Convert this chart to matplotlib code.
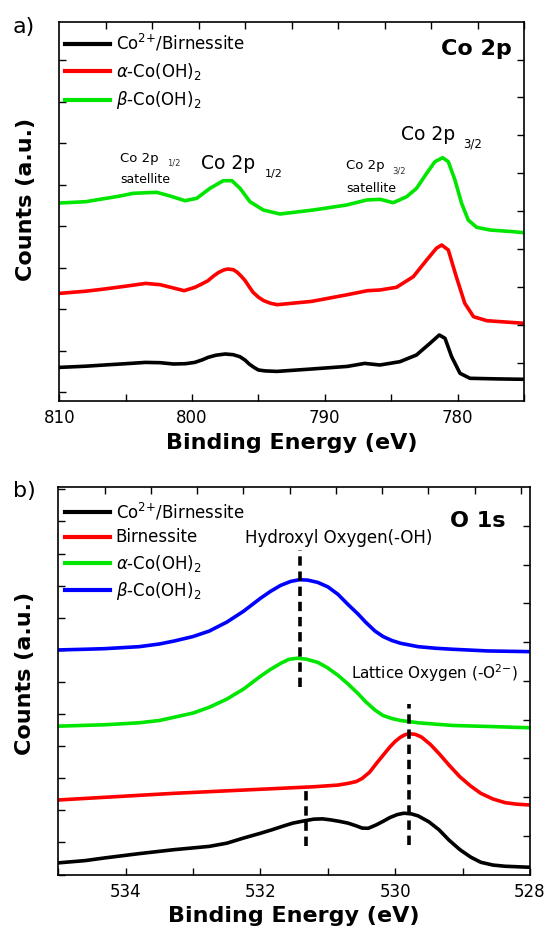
import numpy as np
import matplotlib
matplotlib.use("Agg")
import matplotlib.pyplot as plt
from matplotlib.ticker import MultipleLocator, FixedLocator

# ---------------- Data: Co 2p panel ----------------
co_energy_black = [810.0, 808.0, 806.6, 805.0, 803.5, 802.4, 801.4, 800.5, 799.8, 799.2,
                   798.8, 798.2, 797.5, 796.9, 796.4, 796.0, 795.7, 795.3, 795.0, 794.5,
                   793.6, 791.0, 788.3, 787.0, 785.85, 784.35, 783.1, 782.08, 781.38, 780.95,
                   780.45, 779.82, 779.07, 777.0, 775.0]
co_counts_black = [33.3, 34.5, 35.7, 37.0, 38.3, 38.0, 36.7, 37.0, 38.3, 41.0,
                   43.3, 45.5, 46.7, 46.0, 44.0, 40.5, 36.7, 33.0, 30.7, 29.8,
                   29.3, 31.7, 34.3, 37.3, 35.7, 39.0, 45.7, 57.4, 65.7, 62.4,
                   44.0, 27.4, 22.4, 21.8, 21.4]

co_energy_alpha = [810.0, 808.0, 806.6, 805.0, 803.5, 802.4, 801.4, 800.6, 799.8, 799.3,
                   798.8, 798.4, 798.0, 797.6, 797.3, 796.9, 796.6, 796.3, 796.0, 795.7,
                   795.4, 795.0, 794.6, 794.1, 793.6, 791.0, 788.3, 786.8, 785.85, 784.6,
                   783.34, 782.33, 781.6, 781.2, 780.7, 780.1, 779.46, 778.8, 777.8, 775.0]
co_counts_alpha = [107.3, 109.5, 111.7, 114.5, 117.3, 116.0, 112.7, 110.0, 113.3, 116.5,
                   120.0, 124.5, 128.3, 130.8, 131.7, 131.0, 128.5, 124.5, 120.0, 114.0,
                   108.3, 103.5, 100.0, 97.5, 96.0, 99.3, 106.0, 110.0, 110.7, 113.4,
                   124.0, 140.7, 152.4, 155.7, 150.7, 124.0, 97.4, 84.0, 80.0, 77.4]

co_energy_beta = [810.0, 808.0, 806.93, 805.5, 804.43, 802.67, 801.66, 800.53, 799.65, 798.65,
                  797.65, 797.0, 796.39, 795.64, 794.64, 793.38, 790.87, 788.36, 786.85, 785.85,
                  784.85, 783.84, 783.09, 782.33, 781.71, 781.13, 780.7, 780.2, 779.7, 779.2,
                  778.57, 777.57, 775.8, 775.0]
co_counts_beta = [197.7, 199.0, 201.4, 204.5, 207.4, 208.4, 204.7, 200.0, 202.4, 212.4,
                  220.0, 220.0, 212.4, 199.0, 190.7, 186.7, 190.7, 195.7, 200.7, 201.4,
                  198.0, 204.0, 212.4, 227.4, 239.0, 243.0, 239.0, 220.7, 197.4, 180.7,
                  173.4, 170.7, 169.0, 168.0]

co_labels = ['Co$^{2{+}}$/Birnessite', r'$\alpha$-Co(OH)$_2$', r'$\beta$-Co(OH)$_2$']

# ---------------- Data: O 1s panel ----------------
o_energy_black = [535.0, 534.6, 534.31, 533.8, 533.28, 532.76, 532.5, 532.25, 532.0, 531.83,
                  531.65, 531.52, 531.35, 531.21, 531.08, 530.96, 530.83, 530.7, 530.58, 530.49,
                  530.4, 530.28, 530.18, 530.08, 529.97, 529.87, 529.76, 529.66, 529.5, 529.35,
                  529.2, 529.04, 528.88, 528.73, 528.55, 528.37, 528.01]
o_counts_black = [11.7, 14.0, 16.7, 21.0, 25.0, 28.3, 31.5, 36.7, 41.5, 45.0,
                  49.0, 51.7, 54.0, 55.7, 56.0, 55.0, 53.5, 51.7, 49.0, 46.7,
                  46.5, 50.0, 53.5, 57.3, 60.3, 61.7, 61.0, 59.0, 53.0, 45.0,
                  34.5, 25.0, 17.5, 12.3, 9.5, 8.3, 7.3]

o_energy_birn = [535.0, 534.31, 533.28, 532.25, 531.21, 530.85, 530.7, 530.58, 530.49, 530.38,
                 530.28, 530.18, 530.08, 530.0, 529.92, 529.85, 529.79, 529.7, 529.61, 529.48,
                 529.35, 529.2, 529.04, 528.88, 528.73, 528.55, 528.37, 528.2, 528.01]
o_counts_birn = [75.0, 77.7, 81.7, 85.0, 88.3, 90.0, 91.7, 93.5, 96.7, 103.0,
                 111.7, 120.0, 128.3, 134.0, 138.3, 140.8, 141.7, 141.0, 138.3, 131.0,
                 121.7, 110.0, 98.3, 89.0, 81.7, 76.0, 72.3, 70.8, 70.0]

o_energy_alpha = [535.0, 534.31, 533.8, 533.5, 533.28, 533.0, 532.76, 532.5, 532.25, 532.0,
                  531.85, 531.7, 531.58, 531.45, 531.32, 531.15, 531.01, 530.85, 530.7, 530.55,
                  530.44, 530.3, 530.18, 530.05, 529.92, 529.66, 529.15, 528.63, 528.01]
o_counts_alpha = [149.3, 150.7, 152.7, 155.0, 158.3, 162.5, 168.3, 176.5, 186.7, 199.5,
                  206.5, 212.5, 216.5, 217.7, 216.7, 213.5, 208.3, 200.5, 191.7, 182.0,
                  174.0, 165.5, 160.0, 157.0, 155.0, 152.7, 150.0, 149.0, 147.7]

o_energy_beta = [535.0, 534.6, 534.31, 533.8, 533.5, 533.28, 533.0, 532.76, 532.5, 532.25,
                 532.0, 531.85, 531.7, 531.55, 531.42, 531.3, 531.15, 531.0, 530.85, 530.7,
                 530.55, 530.44, 530.3, 530.18, 530.05, 529.92, 529.66, 529.4, 529.15, 528.63,
                 528.01]
o_counts_beta = [226.0, 226.7, 227.3, 229.3, 232.0, 235.0, 239.5, 245.0, 254.0, 265.0,
                 278.0, 285.0, 291.0, 295.0, 296.7, 296.3, 294.0, 289.5, 282.0, 271.7,
                 262.0, 254.0, 245.0, 239.5, 235.5, 232.7, 229.3, 227.7, 226.7, 225.0,
                 224.3]

o_labels = ['Co$^{2{+}}$/Birnessite', 'Birnessite', r'$\alpha$-Co(OH)$_2$', r'$\beta$-Co(OH)$_2$']

# dashed marker lines: energy, y-start, y-end
dash_energy = [531.42, 529.80, 531.32]
dash_ymin = [188.3, 30.0, 28.3]
dash_ymax = [326.7, 171.7, 85.0]

# ---------------- Style ----------------
plt.rcParams['font.family'] = ['DejaVu Sans']
plt.rcParams['mathtext.fontset'] = 'dejavusans'
BLACK, RED, GREEN, BLUE = '#000000', '#ff0000', '#00e600', '#0000ff'
LW = 2.6

fig = plt.figure(figsize=(5.47, 9.38), dpi=100)
W, H = 547.0, 938.0
ax1 = fig.add_axes([59.3 / W, 1 - 400.7 / H, (524 - 59.3) / W, (400.7 - 21.7) / H])
ax2 = fig.add_axes([58.3 / W, 1 - 874.5 / H, (530 - 58.3) / W, (874.5 - 487) / H])


def style_axes(ax, n_right, n_top):
    for sp in ax.spines.values():
        sp.set_linewidth(1.2)
    ax.tick_params(axis='both', which='both', direction='in', width=1.0, length=5,
                   top=False, right=False)
    ax.tick_params(axis='y', labelleft=False)
    ax.tick_params(axis='x', labelsize=12, pad=6)
    axr = ax.twinx()
    axr.set_ylim(0, n_right)
    axr.yaxis.set_major_locator(FixedLocator(list(range(1, n_right))))
    axr.tick_params(axis='y', direction='in', length=5, width=1.0, labelright=False)
    axt = ax.twiny()
    axt.set_xlim(0, n_top)
    axt.xaxis.set_major_locator(FixedLocator(list(range(1, int(n_top) + 1))))
    axt.tick_params(axis='x', direction='in', length=5, width=1.0, labeltop=False)
    for a in (axr, axt):
        for sp in a.spines.values():
            sp.set_visible(False)


# ---------------- Panel a ----------------
ax1.plot(co_energy_black, co_counts_black, color=BLACK, lw=LW, label=co_labels[0], solid_joinstyle='round')
ax1.plot(co_energy_alpha, co_counts_alpha, color=RED, lw=LW, label=co_labels[1], solid_joinstyle='round')
ax1.plot(co_energy_beta, co_counts_beta, color=GREEN, lw=LW, label=co_labels[2], solid_joinstyle='round')
ax1.set_xlim(810, 775)
ax1.set_ylim(0, 379)
ax1.xaxis.set_major_locator(MultipleLocator(10))
ax1.xaxis.set_minor_locator(MultipleLocator(5))
ax1.yaxis.set_major_locator(MultipleLocator(41.5, offset=8.4))
style_axes(ax1, 10, 10)
ax1.set_xlabel('Binding Energy (eV)', fontsize=16, fontweight='bold', labelpad=4)
ax1.set_ylabel('Counts (a.u.)', fontsize=16, fontweight='bold')
ax1.yaxis.set_label_coords(-0.05, 0.53)
leg1 = ax1.legend(loc='upper left', bbox_to_anchor=(0.012, 0.972), frameon=False, fontsize=12,
                  handlelength=2.7, handletextpad=0.35, borderpad=0, borderaxespad=0,
                  labelspacing=0.45)
for ln in leg1.get_lines():
    ln.set_linewidth(3.0)

ax1.text(0.974, 0.912, 'Co 2p', transform=ax1.transAxes, ha='right', va='baseline',
         fontsize=16, fontweight='bold')
ax1.text(784.3, 260.7, 'Co 2p', fontsize=13.5, va='baseline')
ax1.text(779.6, 253.4, '3/2', fontsize=8.5, va='baseline')
ax1.text(799.3, 231.4, 'Co 2p', fontsize=13.5, va='baseline')
ax1.text(794.5, 224.0, '1/2', fontsize=8, va='baseline')
ax1.text(805.4, 239.0, 'Co 2p', fontsize=9.5, va='baseline')
ax1.text(801.9, 235.0, '1/2', fontsize=6, va='baseline', color='#333333')
ax1.text(805.4, 217.4, 'satellite', fontsize=9, va='baseline')
ax1.text(788.4, 231.4, 'Co 2p', fontsize=9.5, va='baseline')
ax1.text(784.9, 227.4, '3/2', fontsize=6, va='baseline', color='#333333')
ax1.text(788.4, 209.0, 'satellite', fontsize=9, va='baseline')

fig.text(13 / W, 1 - 33 / H, 'a)', fontsize=16, va='baseline', ha='left')

# ---------------- Panel b ----------------
ax2.plot(o_energy_black, o_counts_black, color=BLACK, lw=LW, label=o_labels[0], solid_joinstyle='round')
ax2.plot(o_energy_birn, o_counts_birn, color=RED, lw=LW, label=o_labels[1], solid_joinstyle='round')
ax2.plot(o_energy_alpha, o_counts_alpha, color=GREEN, lw=LW, label=o_labels[2], solid_joinstyle='round')
ax2.plot(o_energy_beta, o_counts_beta, color=BLUE, lw=LW, label=o_labels[3], solid_joinstyle='round')
for e, y0, y1 in zip(dash_energy, dash_ymin, dash_ymax):
    ax2.plot([e, e], [y0, y1], color='black', lw=2.6, dashes=(2.6, 1.6))
ax2.set_xlim(535, 528)
ax2.set_ylim(0, 390)
ax2.xaxis.set_major_locator(MultipleLocator(2))
ax2.xaxis.set_minor_locator(MultipleLocator(1))
ax2.yaxis.set_major_locator(MultipleLocator(32.3))
style_axes(ax2, 10, 10.2)
ax2.set_xlabel('Binding Energy (eV)', fontsize=16, fontweight='bold', labelpad=4)
ax2.set_ylabel('Counts (a.u.)', fontsize=16, fontweight='bold')
ax2.yaxis.set_label_coords(-0.05, 0.52)
leg2 = ax2.legend(loc='upper left', bbox_to_anchor=(0.014, 0.964), frameon=False, fontsize=12,
                  handlelength=2.7, handletextpad=0.35, borderpad=0, borderaxespad=0,
                  labelspacing=0.38)
for ln in leg2.get_lines():
    ln.set_linewidth(3.0)

ax2.text(0.9475, 0.897, 'O 1s', transform=ax2.transAxes, ha='right', va='baseline',
         fontsize=16, fontweight='bold')
ax2.text(532.23, 333.3, 'Hydroxyl Oxygen(-OH)', fontsize=12, va='baseline')
ax2.text(530.65, 196.7, 'Lattice Oxygen (-O$^{2{-}}$)', fontsize=11, va='baseline')

fig.text(13 / W, 1 - 496.7 / H, 'b)', fontsize=16, va='baseline', ha='left')

fig.savefig('out.png', dpi=100)
